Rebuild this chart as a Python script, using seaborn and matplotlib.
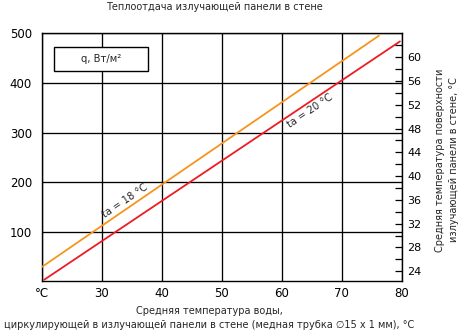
import matplotlib
matplotlib.use("Agg")
import matplotlib.pyplot as plt
from matplotlib.patches import Rectangle
import seaborn as sns
import pandas as pd

# Average water temperature (°C) and heat output q (W/m²) for two room temperatures
water_temp_18 = [20.0, 76.2]
heat_18 = [28.7, 495.6]
water_temp_20 = [20.4, 79.7]
heat_20 = [3.0, 484.0]

x_ticks = [20, 30, 40, 50, 60, 70, 80]
x_tick_labels = ["°C", "30", "40", "50", "60", "70", "80"]
y_ticks = [100, 200, 300, 400, 500]
surface_ticks = [24, 28, 32, 36, 40, 44, 48, 52, 56, 60]
surface_minor = [26, 30, 34, 38, 42, 46, 50, 54, 58, 62]

sns.set_style("white")
plt.rcParams["font.family"] = ["DejaVu Sans"]

df = pd.concat([
    pd.DataFrame({"t": water_temp_18, "q": heat_18, "ta": "18"}),
    pd.DataFrame({"t": water_temp_20, "q": heat_20, "ta": "20"}),
])

fig = plt.figure(figsize=(4.61, 3.33), dpi=100)
ax = fig.add_axes([0.0905, 0.1553, 0.7809, 0.7441])

sns.lineplot(data=df, x="t", y="q", hue="ta",
             palette={"18": "#F7941D", "20": "#ED1C24"},
             linewidth=1.3, legend=False, ax=ax, zorder=3)

ax.set_xlim(20, 80)
ax.set_ylim(0, 500)
ax.set_xticks(x_ticks)
ax.set_xticklabels(x_tick_labels)
ax.set_yticks(y_ticks)
ax.set_yticklabels([str(v) for v in y_ticks])
ax.tick_params(axis="both", length=0, labelsize=8.5, colors="black")
ax.tick_params(axis="x", pad=4)
ax.tick_params(axis="y", pad=7)
ax.grid(True, color="black", linewidth=0.95)
ax.set_axisbelow(True)
ax.set_xlabel("")
ax.set_ylabel("")
for s in ax.spines.values():
    s.set_color("black")
    s.set_linewidth(1.0)

# Surface temperature scale on the right
ax2 = ax.twinx()
ax2.set_ylim(22.3, 64.0)
ax2.set_yticks(surface_ticks)
ax2.set_yticks(surface_minor, minor=True)
ax2.tick_params(axis="y", which="both", direction="in", length=5, width=0.9,
                labelsize=8, pad=4, colors="black")
for s in ax2.spines.values():
    s.set_visible(False)

# Unit box
ax.add_patch(Rectangle((0.034, 0.848), 0.261, 0.098, transform=ax.transAxes,
                       facecolor="white", edgecolor="black", linewidth=1.0, zorder=4))
ax.text(0.165, 0.897, "q, Вт/м²", transform=ax.transAxes, ha="center", va="center",
        fontsize=7.2, zorder=5)

# Curve labels
ax.text(33.9, 162, "ta = 18 °C", rotation=34, ha="center", va="center",
        fontsize=7.2, rotation_mode="anchor", zorder=5)
ax.text(64.8, 344, "ta = 20 °C", rotation=34, ha="center", va="center",
        fontsize=7.2, rotation_mode="anchor", zorder=5)

fig.text(214 / 461, 1 - 7 / 333, "Теплоотдача излучающей панели в стене",
         ha="center", va="center", fontsize=7)
fig.text(209 / 461, 1 - 318 / 333,
         "Средняя температура воды,\n"
         "циркулирующей в излучающей панели в стене (медная трубка ∅15 x 1 мм), °C",
         ha="center", va="center", fontsize=7, linespacing=1.55)
fig.text(447 / 461, 1 - 160 / 333,
         "Средняя температура поверхности\nизлучающей панели в стене, °C",
         ha="center", va="center", rotation=90, fontsize=7, linespacing=1.45,
         multialignment="center")

fig.savefig("out.png", dpi=100)
